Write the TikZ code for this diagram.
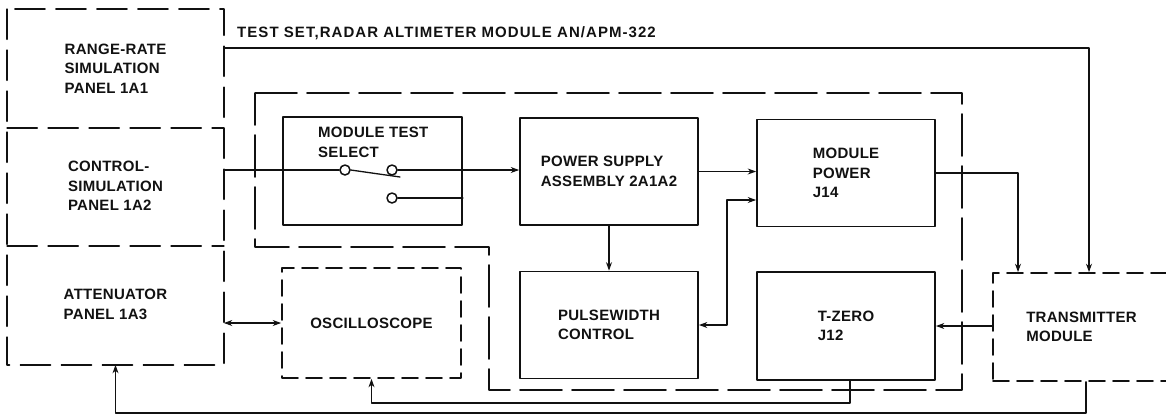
\documentclass[tikz,border=0pt]{standalone}
\usepackage{fontspec}
\setmainfont{Liberation Sans}[LetterSpace=2]
\newfontfamily\titlefont{Liberation Sans}[LetterSpace=7]
\usepackage{tikz}
\usetikzlibrary{arrows.meta,calc}
\definecolor{ink}{HTML}{111111}
\newcommand{\lblfont}{\fontsize{15}{19.5}\selectfont}
\tikzset{
    every picture/.style={line cap=round,line join=round},
    unitbox/.style={draw=ink,line width=1.7pt,
      minimum width=178pt,minimum height=107pt,inner sep=0pt,
      font=\lblfont\bfseries,align=left,text=ink},
    panelbox/.style={unitbox,draw=none,minimum width=215pt},
    paneldash/.style={draw=ink,line width=1.7pt,dash pattern=on 30pt off 11pt},
    loosebox/.style={unitbox,dash pattern=on 16pt off 8pt},
    labeltext/.style={inner sep=0pt,font=\lblfont\bfseries,align=left,text=ink},
    swnode/.style={draw=ink,circle,fill=white,line width=1.5pt,
      minimum size=10pt,inner sep=0pt},
    wire/.style={draw=ink,line width=1.3pt},
    flowarrow/.style={-{Stealth[length=8.5pt,width=6pt]},draw=ink,
      line width=1.3pt},
    dualarrow/.style={{Stealth[length=8.5pt,width=6pt]}-{Stealth[length=8.5pt,width=6pt]},
      draw=ink,line width=1.3pt},
    rackline/.style={draw=ink,line width=1.7pt,dash pattern=on 42pt off 10pt}
}

\begin{document}
\begin{tikzpicture}[x=1pt,y=-1pt,>={Stealth[length=8.5pt,width=6pt]}]
  \useasboundingbox (0,0) rectangle (1166,416);
  \node[panelbox,minimum height=117pt] (rr) at (115.5,68.5){RANGE-RATE\\SIMULATION\\PANEL 1A1};
  \node[panelbox,minimum height=118pt] (cs) at (115.5,186){CONTROL-\\SIMULATION\\PANEL 1A2};
  \node[panelbox,minimum height=119pt] (att) at (115.5,304.5){ATTENUATOR\\PANEL 1A3};
  \draw[paneldash] (rr.north west) rectangle (att.south east);
  \draw[paneldash] (rr.south west) -- (rr.south east);
  \draw[paneldash] (cs.south west) -- (cs.south east);
  \node[unitbox,minimum width=179pt,minimum height=108pt] (mts) at (372.5,171){};
  \node[labeltext,anchor=north west] (mtslbl) at (318,127){MODULE TEST\\SELECT};
  \node[unitbox] (psa) at (609,171.5){POWER SUPPLY\\ASSEMBLY 2A1A2};
  \node[unitbox] (mp) at (846,173){MODULE\\POWER\\J14};
  \node[unitbox] (pw) at (609,325){PULSEWIDTH\\CONTROL};
  \node[unitbox,minimum height=108pt] (tz) at (846,326){T-ZERO\\J12};
  \node[loosebox,minimum width=179pt,minimum height=110pt] (osc) at (371.5,323){OSCILLOSCOPE};
  \node[loosebox,minimum width=177pt,minimum height=108pt] (tx) at (1081.5,327){TRANSMITTER\\MODULE};
  \node[swnode] (sw1) at (345,170){};
  \node[swnode] (sw2) at (392,170){};
  \node[swnode] (sw3) at (392,198){};
  \node[labeltext,anchor=base west,font=\fontsize{15}{18}\selectfont\titlefont\bfseries] (title) at (237,37){TEST SET,RADAR ALTIMETER MODULE AN/APM-322};
  \coordinate (swarm) at (400,177);
  \coordinate (ttl) at (1089,48);
  \coordinate (pwmp) at (727,200);
  \coordinate (mptx) at (1018,173);
  \coordinate (tzosc) at (850,403);
  \coordinate (txatt) at (1086,413);
  \draw[rackline] (255,93) -- (962,93) -- (962,390) -- (489,390) -- (489,247) -- (255,247) -- cycle;
  \draw[wire] (sw1 -| cs.east) -- (sw1);
  \draw[wire] (sw1.east) -- (swarm);
  \draw[flowarrow] (sw2) -- (sw2 -| psa.west);
  \draw[wire] (sw3) -- (sw3 -| mts.east);
  \draw[flowarrow] (rr.east |- ttl) -- (ttl) -- (ttl |- tx.north);
  \draw[flowarrow] (psa.east) -- (psa.east -| mp.west);
  \draw[dualarrow] (pw.east) -| (pwmp) -- (pwmp -| mp.west);
  \draw[flowarrow] (psa.south) -- (pw.north);
  \draw[flowarrow] (mp.east) -| (mptx |- tx.north);
  \draw[flowarrow] (tx.west |- tz.east) -- (tz.east);
  \draw[dualarrow] (att.east |- osc.west) -- (osc.west);
  \draw[flowarrow] (tzosc |- tz.south) -- (tzosc) -| (osc.south);
  \draw[flowarrow] (txatt |- tx.south) -- (txatt) -| (att.south);
\end{tikzpicture}
\end{document}
